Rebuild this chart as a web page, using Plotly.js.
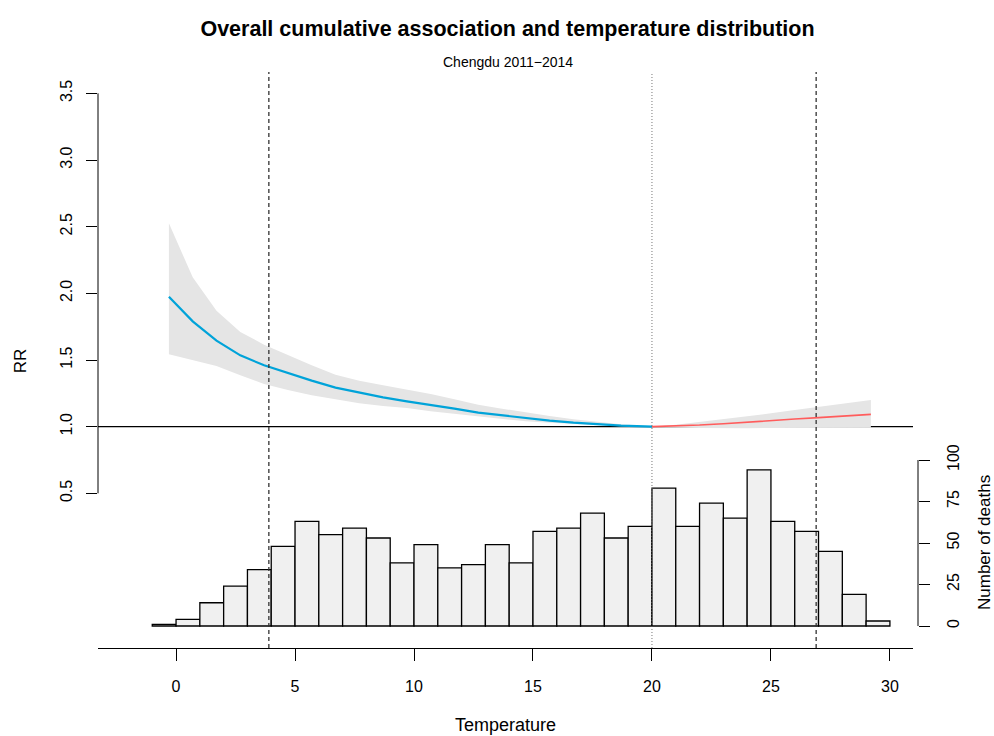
<!DOCTYPE html>
<html>
<head>
<meta charset="utf-8">
<script src="https://cdn.plot.ly/plotly-3.0.1.min.js"></script>
<style>html,body{margin:0;padding:0;background:#fff;} #chart{width:994px;height:736px;}</style>
</head>
<body>
<div id="chart"></div>
<script>
// ---- Data ----
const temp   = [-0.3, 0.7, 1.7, 2.7, 3.7, 4.7, 5.7, 6.7, 7.7, 8.7, 9.7, 10.7, 11.7, 12.7, 13.7, 14.7, 15.7, 16.7, 17.7, 18.7, 19.7, 20.0,
                21, 22, 23, 24, 25, 26, 27, 28, 29.2];
const rr     = [1.975, 1.79, 1.645, 1.535, 1.46, 1.40, 1.345, 1.293, 1.255, 1.22, 1.19, 1.165, 1.135, 1.105, 1.085, 1.06, 1.045, 1.03, 1.018, 1.008, 1.002, 1.0,
                1.005, 1.012, 1.022, 1.032, 1.045, 1.057, 1.068, 1.079, 1.092];
const rrLow  = [1.544, 1.50, 1.455, 1.385, 1.32, 1.275, 1.235, 1.205, 1.175, 1.155, 1.14, 1.115, 1.095, 1.075, 1.06, 1.04, 1.03, 1.02, 1.01, 1.004, 1.0, 1.0,
                0.995, 0.99, 0.988, 0.988, 0.99, 0.99, 0.992, 0.992, 0.992];
const rrHigh = [2.525, 2.12, 1.87, 1.71, 1.615, 1.535, 1.46, 1.39, 1.345, 1.31, 1.28, 1.245, 1.205, 1.165, 1.135, 1.105, 1.08, 1.055, 1.035, 1.018, 1.005, 1.0,
                1.015, 1.035, 1.06, 1.08, 1.10, 1.125, 1.15, 1.17, 1.20];
const mmt = 20;                 // minimum mortality temperature (dotted line)
const cutoffs = [3.9, 26.9];    // dashed reference temperatures

const binLower = [-1, 0, 1, 2, 3, 4, 5, 6, 7, 8, 9, 10, 11, 12, 13, 14, 15, 16, 17, 18, 19, 20, 21, 22, 23, 24, 25, 26, 27, 28, 29];
const deaths   = [1, 4, 14, 24, 34, 48, 63, 55, 59, 53, 38, 49, 35, 37, 49, 38, 57, 59, 68, 53, 60, 83, 60, 74, 65, 94, 63, 57, 45, 19, 3];

const xTicks  = [0, 5, 10, 15, 20, 25, 30];
const rrTicks = [0.5, 1.0, 1.5, 2.0, 2.5, 3.0, 3.5];
const rrTickText = ['0.5', '1.0', '1.5', '2.0', '2.5', '3.0', '3.5'];
const deathTicks = [0, 25, 50, 75, 100];

const titleText = 'Overall cumulative association and temperature distribution';
const subtitleText = 'Chengdu 2011\u22122014';

// ---- Build traces ----
const FONT = 'Liberation Sans, Arial, Helvetica, sans-serif';
const coldIdx = temp.map((t, i) => i).filter(i => temp[i] <= mmt);
const hotIdx  = temp.map((t, i) => i).filter(i => temp[i] >= mmt);
const pick = (arr, idx) => idx.map(i => arr[i]);

const bandLow = { x: temp, y: rrLow, type: 'scatter', mode: 'lines', line: { width: 0, color: 'rgba(0,0,0,0)' },
  hoverinfo: 'skip', showlegend: false, xaxis: 'x', yaxis: 'y' };
const bandHigh = { x: temp, y: rrHigh, type: 'scatter', mode: 'lines', line: { width: 0, color: 'rgba(0,0,0,0)' },
  fill: 'tonexty', fillcolor: 'rgb(229,229,229)', hoverinfo: 'skip', showlegend: false, xaxis: 'x', yaxis: 'y' };
const coldLine = { x: pick(temp, coldIdx), y: pick(rr, coldIdx), type: 'scatter', mode: 'lines',
  line: { color: '#00a3d9', width: 2.2 }, showlegend: false, xaxis: 'x', yaxis: 'y' };
const hotLine = { x: pick(temp, hotIdx), y: pick(rr, hotIdx), type: 'scatter', mode: 'lines',
  line: { color: '#ff5c5c', width: 1.6 }, showlegend: false, xaxis: 'x', yaxis: 'y' };
const hist = { x: binLower.map(b => b + 0.5), y: deaths, width: binLower.map(() => 1), type: 'bar',
  marker: { color: '#f0f0f0', line: { color: '#000', width: 1.3 } }, showlegend: false, xaxis: 'x', yaxis: 'y2' };

// ---- Layout ----
const plotW = 994 - 98 - 76;
const xDomEnd = 815 / plotW;

const shapes = [
  { type: 'line', xref: 'x domain', x0: 0, x1: 1, yref: 'y', y0: 1, y1: 1, line: { color: '#000', width: 1.3 }, layer: 'below' },
  { type: 'line', xref: 'paper', x0: 0, x1: 0, yref: 'y', y0: rrTicks[0], y1: rrTicks[rrTicks.length - 1], line: { color: '#000', width: 1 } },
  { type: 'line', xref: 'paper', x0: 1, x1: 1, yref: 'y2', y0: deathTicks[0], y1: deathTicks[deathTicks.length - 1], line: { color: '#000', width: 1 } },
  { type: 'line', xref: 'x', x0: mmt, x1: mmt, yref: 'y domain', y0: 0, y1: 1, line: { color: '#777', width: 1, dash: '1px,2px' } },
].concat(cutoffs.map(c => (
  { type: 'line', xref: 'x', x0: c, x1: c, yref: 'y domain', y0: 0, y1: 1, line: { color: '#333', width: 1.3, dash: '4px,3px' } }
)));

const layout = {
  width: 994, height: 736,
  paper_bgcolor: '#fff', plot_bgcolor: '#fff',
  margin: { l: 98, r: 76, t: 72, b: 88 },
  font: { family: FONT, color: '#000', size: 16 },
  title: { text: '<b>' + titleText + '</b>', font: { family: FONT, size: 21.5, color: '#000' },
           xref: 'paper', x: (507.5 - 98) / plotW, xanchor: 'center', yref: 'container', y: 1 - 28 / 736, yanchor: 'middle' },
  showlegend: false,
  bargap: 0,
  xaxis: { domain: [0, xDomEnd], range: [-3.28, 30.97], tickvals: xTicks, ticktext: xTicks.map(String),
           ticks: 'outside', ticklen: 12, tickwidth: 1, tickcolor: '#000', showline: true, linecolor: '#000', linewidth: 1,
           showgrid: false, zeroline: false, tickfont: { size: 16, family: FONT }, ticklabelstandoff: 12, fixedrange: true },
  yaxis: { range: [-0.66, 3.66], tickvals: rrTicks, ticktext: rrTickText, tickangle: -90,
           ticks: 'outside', ticklen: 11, tickwidth: 1, tickcolor: '#000', showline: false, showgrid: false, zeroline: false,
           tickfont: { size: 16, family: FONT }, ticklabelstandoff: 8 },
  yaxis2: { overlaying: 'y', side: 'right', anchor: 'free', position: 1, range: [-13.25, 333.73],
            tickvals: deathTicks, ticktext: deathTicks.map(String), tickangle: -90,
            ticks: 'outside', ticklen: 11, tickwidth: 1, tickcolor: '#000', showline: false, showgrid: false, zeroline: false,
            tickfont: { size: 16, family: FONT }, ticklabelstandoff: 10 },
  shapes: shapes,
  annotations: [
    { text: subtitleText, xref: 'paper', x: (507.5 - 98) / plotW, xanchor: 'center', yref: 'paper', y: 1, yanchor: 'middle', yshift: 10,
      showarrow: false, font: { size: 14, family: FONT } },
    { text: 'RR', xref: 'paper', x: 0, xshift: -78, xanchor: 'center', yref: 'y', y: 1.49, yanchor: 'middle', textangle: -90,
      showarrow: false, font: { size: 17, family: FONT } },
    { text: 'Number of deaths', xref: 'paper', x: 1, xshift: 66, xanchor: 'center', yref: 'y2', y: 50, yanchor: 'middle', textangle: -90,
      showarrow: false, font: { size: 17, family: FONT } },
    { text: 'Temperature', xref: 'x', x: (-3.28 + 30.97) / 2, xanchor: 'center', yref: 'paper', y: 0, yshift: -77, yanchor: 'middle',
      showarrow: false, font: { size: 18, family: FONT } }
  ]
};

Plotly.newPlot('chart', [bandLow, bandHigh, coldLine, hotLine, hist], layout, { displayModeBar: false, staticPlot: true });
</script>
</body>
</html>
